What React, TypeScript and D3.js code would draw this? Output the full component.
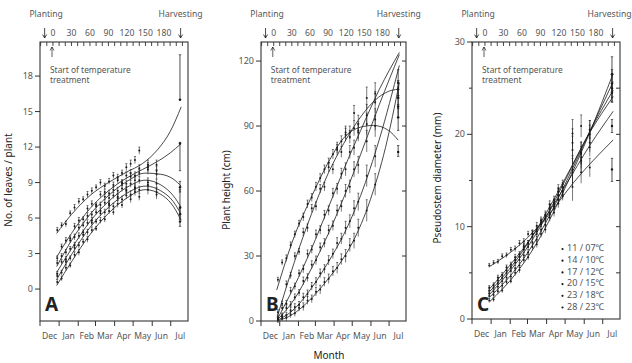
import React from 'react';
import * as d3 from 'd3';

// ---------- axis / tick data ----------
const DAY_DOMAIN: [number, number] = [-21, 219];
const MONTHS = ['Dec', 'Jan', 'Feb', 'Mar', 'Apr', 'May', 'Jun', 'Jul'];
const MONTH_STARTS = [-21, 10, 41, 69, 100, 130, 161, 191, 222];
const TOP_LABEL_DAYS = [0, 30, 60, 90, 120, 150, 180];
const TOP_MINOR_DAYS = [-20, -10, 0, 10, 20, 30, 40, 50, 60, 70, 80, 90, 100, 110, 120, 130, 140, 150, 160, 170, 180, 190, 200, 210];
const PLANTING_DAY = -13.5;
const HARVEST_ARROW_DAY = 207;
const TREATMENT_DAY = -1.5;
const LEGEND = ['11 / 07℃', '14 / 10℃', '17 / 12℃', '20 / 15℃', '23 / 18℃', '28 / 23℃'];

// ---------- measurement days ----------
const MEAS_DAYS = [7, 14, 21, 28, 35, 42, 49, 56, 63, 70, 77, 84, 91, 98, 105, 112, 119, 126, 133, 140, 154, 168];
const MEAS_DAYS_C = [7, 14, 21, 28, 35, 42, 49, 56, 63, 70, 77, 84, 91, 98, 105, 112, 119, 126, 142, 156, 170];
const HARVEST_DAY = 206;

// ---------- Panel A: number of leaves ----------
const A1 = [5.0, 5.4, 5.5, 6.4, 6.9, 7.4, 7.6, 8.0, 8.3, 8.6, 9.0, 8.7, 9.1, 9.6, 9.4, 9.8, 10.3, 10.6, 10.9, 11.7, 10.3, 10.5];
const A2 = [2.6, 3.6, 4.1, 4.3, 5.3, 5.8, 5.9, 6.8, 7.2, 7.1, 8.0, 8.2, 8.1, 8.8, 9.2, 8.9, 9.6, 9.8, 9.6, 10.2, 10.5, 10.0];
const A3 = [2.2, 2.8, 3.1, 4.1, 4.4, 5.2, 5.4, 6.2, 6.3, 7.0, 7.1, 7.8, 7.7, 8.4, 8.3, 9.0, 8.9, 9.5, 9.2, 9.8, 10.1, 9.7];
const A4 = [1.3, 2.3, 2.5, 3.4, 3.7, 4.5, 4.8, 5.6, 5.8, 6.5, 6.6, 7.3, 7.2, 7.9, 7.8, 8.5, 8.4, 8.9, 8.6, 9.2, 9.0, 8.9];
const A5 = [1.1, 1.4, 2.3, 2.6, 3.5, 3.7, 4.6, 4.8, 5.6, 5.7, 6.4, 6.5, 7.1, 7.0, 7.7, 7.6, 8.3, 8.0, 8.5, 8.4, 8.8, 8.2];
const A6 = [0.6, 0.9, 1.8, 2.0, 2.9, 3.1, 4.0, 4.2, 5.0, 5.1, 5.8, 5.9, 6.6, 6.5, 7.2, 7.1, 7.9, 7.6, 8.2, 7.8, 8.4, 8.0];
const ERR_A = [0.2, 0.2, 0.25, 0.2, 0.25, 0.25, 0.2, 0.25, 0.25, 0.2, 0.25, 0.25, 0.25, 0.25, 0.3, 0.25, 0.3, 0.3, 0.3, 0.3, 0.4, 0.4];
const HARVEST_A = [16.0, 12.3, 8.6, 6.9, 6.3, 5.7];
const HARVEST_A_LO = [16.0, 10.0, 8.2, 6.4, 5.9, 5.3];
const HARVEST_A_HI = [19.8, 12.4, 9.1, 8.4, 6.8, 6.1];
const CURVE_A1: [number, number][] = [[6, 4.7], [30, 6.3], [60, 7.9], [90, 9.0], [120, 9.9], [145, 10.6], [170, 11.8], [190, 13.3], [208, 15.4]];
const CURVE_A2: [number, number][] = [[6, 2.7], [30, 4.7], [60, 6.8], [90, 8.3], [120, 9.4], [145, 10.1], [170, 10.8], [190, 11.5], [208, 12.3]];
const CURVE_A3: [number, number][] = [[6, 1.9], [30, 4.1], [60, 6.3], [90, 7.9], [120, 9.1], [150, 9.8], [175, 9.7], [195, 9.3], [208, 8.7]];
const CURVE_A4: [number, number][] = [[6, 1.4], [30, 3.4], [60, 5.7], [90, 7.4], [120, 8.6], [150, 9.2], [175, 8.8], [195, 7.9], [208, 6.9]];
const CURVE_A5: [number, number][] = [[6, 0.8], [30, 2.9], [60, 5.2], [90, 6.9], [120, 8.1], [150, 8.7], [175, 8.3], [195, 7.4], [208, 6.3]];
const CURVE_A6: [number, number][] = [[6, 0.3], [30, 2.3], [60, 4.6], [90, 6.4], [120, 7.7], [150, 8.4], [175, 8.0], [195, 7.0], [208, 5.8]];

// ---------- Panel B: plant height ----------
const B1 = [19, 27, 29, 35, 40, 45, 48, 54, 57, 62, 66, 70, 73, 77, 80, 83, 86, 87, 89, 88, 91, 90];
const B2 = [4, 8, 17, 21, 30, 32, 41, 43, 52, 53, 61, 62, 71, 70, 79, 78, 87, 85, 96, 91, 103, 105];
const B3 = [1.5, 6, 8, 14, 16, 22, 24, 31, 33, 40, 42, 49, 51, 59, 61, 68, 70, 78, 80, 87, 95, 101];
const B4 = [1, 2.5, 6, 7.5, 11, 13, 18.5, 20, 26, 28, 34, 36, 42, 44, 51, 53, 60, 62, 70, 72, 83, 93];
const B5 = [0.5, 2, 2.5, 5, 6.5, 7.5, 11, 12.5, 16, 18, 22, 24, 28, 31, 36, 38, 43, 46, 52, 55, 67, 76];
const B6 = [0.3, 1.2, 1.5, 3, 3.6, 6, 6.6, 9.5, 10.2, 13.5, 14.5, 18, 19.5, 23, 24.5, 28.5, 30, 35, 37, 43, 51, 63];
const ERR_B = [1.2, 1.2, 1.5, 1.5, 1.5, 1.5, 1.8, 1.8, 1.8, 2, 2, 2, 2.2, 2.2, 2.5, 2.5, 3, 3, 3.5, 4, 5, 5];
const HARVEST_B = [78, 107, 110, 103, 99, 94];
const HARVEST_B_LO = [76, 103, 104, 98, 94, 88];
const HARVEST_B_HI = [81, 111, 116, 108, 104, 100];
const CURVE_B1: [number, number][] = [[5, 14.3], [34, 39], [62, 57], [90, 73], [116, 84.5], [144, 89.5], [165, 90.3], [190, 88], [206, 83.5]];
const CURVE_B2: [number, number][] = [[6, 2], [34, 27], [62, 49], [90, 68], [116, 82], [146, 95], [168, 102], [190, 106], [206, 107]];
const CURVE_B3: [number, number][] = [[6, 0.8], [34, 16], [62, 33], [90, 52], [116, 70], [144, 88], [175, 107], [208, 124]];
const CURVE_B4: [number, number][] = [[6, 0.5], [34, 10], [62, 24], [90, 40], [116, 57], [144, 77], [175, 100], [208, 123]];
const CURVE_B5: [number, number][] = [[6, 0.3], [34, 5.5], [62, 15], [90, 27], [116, 40], [144, 58], [175, 84], [208, 118]];
const CURVE_B6: [number, number][] = [[6, 0], [31, 3], [59, 9.5], [86, 18], [113, 28], [130, 36], [160, 56], [185, 80], [208, 110]];

// ---------- Panel C: pseudostem diameter ----------
const C1 = [5.8, 6.1, 6.2, 6.8, 6.9, 7.5, 7.6, 8.2, 8.4, 9.2, 9.3, 10.1, 10.3, 11.1, 11.3, 12.2, 12.5, 13.5, 14.3, 15.9, 16.4];
const C2 = [3.4, 3.7, 4.5, 4.8, 5.6, 5.9, 6.7, 7.0, 7.9, 8.2, 9.2, 9.5, 10.5, 10.9, 12.0, 12.4, 13.4, 13.9, 15.9, 17.5, 18.6];
const C3 = [3.1, 3.4, 4.2, 4.5, 5.3, 5.6, 6.4, 6.8, 7.8, 8.2, 9.2, 9.7, 10.7, 11.3, 12.4, 12.9, 14.1, 14.6, 18.3, 20.9, 20.5];
const C4 = [2.8, 3.0, 3.9, 4.1, 5.0, 5.2, 6.1, 6.4, 7.5, 7.8, 8.9, 9.2, 10.3, 10.8, 12.1, 12.6, 13.8, 14.3, 20.1, 17.2, 19.1];
const C5 = [2.5, 2.6, 3.5, 3.6, 4.5, 4.6, 5.5, 5.8, 6.9, 7.2, 8.3, 8.6, 9.7, 10.2, 11.5, 12.0, 13.4, 13.9, 19.1, 18.0, 20.5];
const C6 = [2.0, 2.1, 3.0, 3.1, 4.0, 4.1, 5.0, 5.3, 6.4, 6.7, 7.8, 8.1, 9.2, 9.7, 11.0, 11.5, 12.9, 13.3, 16.2, 17.9, 20.0];
const ERR_C = [0.2, 0.2, 0.25, 0.25, 0.25, 0.25, 0.3, 0.3, 0.3, 0.3, 0.35, 0.35, 0.35, 0.4, 0.4, 0.4, 0.45, 0.45, 1.5, 1.2, 1.0];
const HARVEST_C = [16.2, 20.9, 24.5, 25.0, 25.5, 26.5];
const HARVEST_C_LO = [14.9, 20.2, 23.5, 23.5, 24.0, 24.6];
const HARVEST_C_HI = [17.4, 21.6, 25.5, 26.5, 27.0, 28.4];
const CURVE_C1: [number, number][] = [[8, 5.7], [56, 8.0], [100, 11.0], [144, 14.8], [208, 19.4]];
const CURVE_C2: [number, number][] = [[8, 3.3], [50, 6.6], [90, 10.2], [130, 14.4], [170, 18.8], [208, 22.5]];
const CURVE_C3: [number, number][] = [[8, 3.0], [50, 6.3], [90, 10.4], [130, 15.2], [170, 20.2], [208, 24.1]];
const CURVE_C4: [number, number][] = [[8, 2.7], [50, 6.0], [90, 10.0], [130, 15.0], [170, 20.3], [208, 24.8]];
const CURVE_C5: [number, number][] = [[8, 2.4], [50, 5.4], [90, 9.4], [130, 14.6], [170, 20.3], [208, 25.7]];
const CURVE_C6: [number, number][] = [[8, 1.9], [50, 4.9], [90, 8.9], [130, 14.2], [170, 20.2], [208, 26.6]];

const FONT = "'Noto Sans', 'Open Sans', sans-serif";
const INK = '#1a1a1a';
const GREY = '#555';

interface PanelCfg {
  letter: string;
  left: number; right: number; top: number; bottom: number;
  yDomain: [number, number];
  yTicks: number[];
  yMinorLeft: number[];
  yRightTicks: number[];
  title: string; titleX: number; titleY: number;
  days: number[];
  series: number[][];
  err: number[];
  curves: [number, number][][];
  harvest: number[]; harvestLo: number[]; harvestHi: number[];
  legend?: boolean;
  harvestLabelShift?: number;
}

const PANELS: PanelCfg[] = [
  {
    letter: 'A', left: 40, right: 188, top: 42, bottom: 321,
    yDomain: [-2.7, 20.88], yTicks: [0, 3, 6, 9, 12, 15, 18], yMinorLeft: [], yRightTicks: [],
    title: 'No. of leaves / plant', titleX: 12, titleY: 180,
    days: MEAS_DAYS, series: [A1, A2, A3, A4, A5, A6], err: ERR_A,
    curves: [CURVE_A1, CURVE_A2, CURVE_A3, CURVE_A4, CURVE_A5, CURVE_A6],
    harvest: HARVEST_A, harvestLo: HARVEST_A_LO, harvestHi: HARVEST_A_HI,
  },
  {
    letter: 'B', left: 261, right: 406, top: 42, bottom: 321,
    yDomain: [0, 128.8], yTicks: [0, 30, 60, 90, 120], yMinorLeft: [], yRightTicks: [30, 60, 90, 120],
    title: 'Plant height (cm)', titleX: 230, titleY: 190,
    days: MEAS_DAYS, series: [B1, B2, B3, B4, B5, B6], err: ERR_B,
    curves: [CURVE_B1, CURVE_B2, CURVE_B3, CURVE_B4, CURVE_B5, CURVE_B6],
    harvest: HARVEST_B, harvestLo: HARVEST_B_LO, harvestHi: HARVEST_B_HI,
  },
  {
    letter: 'C', left: 472, right: 620, top: 42, bottom: 319,
    yDomain: [0, 30], yTicks: [0, 10, 20, 30], yMinorLeft: [5, 15, 25], yRightTicks: [5, 10, 15, 20, 25],
    title: 'Pseudostem diameter (mm)', titleX: 441, titleY: 178,
    days: MEAS_DAYS_C, series: [C1, C2, C3, C4, C5, C6], err: ERR_C,
    curves: [CURVE_C1, CURVE_C2, CURVE_C3, CURVE_C4, CURVE_C5, CURVE_C6],
    harvest: HARVEST_C, harvestLo: HARVEST_C_LO, harvestHi: HARVEST_C_HI,
    legend: true, harvestLabelShift: -3,
  },
];

function Panel({ p }: { p: PanelCfg }) {
  const x = d3.scaleLinear().domain(DAY_DOMAIN).range([p.left, p.right]);
  const y = d3.scaleLinear().domain(p.yDomain).range([p.bottom, p.top]);
  const line = d3.line<[number, number]>().x(d => x(d[0])).y(d => y(d[1])).curve(d3.curveMonotoneX);

  const monthTicks = MONTH_STARTS.filter(d => d >= DAY_DOMAIN[0] && d <= DAY_DOMAIN[1]);
  const monthMids = MONTHS.map((m, i) => ({ m, d: (MONTH_STARTS[i] + MONTH_STARTS[i + 1]) / 2 }));

  const arrowDown = (ax: number, y1: number, y2: number, key: string) => (
    <g key={key} stroke={INK} strokeWidth={0.8} fill="none">
      <line x1={ax} x2={ax} y1={y1} y2={y2} />
      <path d={`M${ax - 2},${y2 - 3.5} L${ax},${y2} L${ax + 2},${y2 - 3.5}`} />
    </g>
  );

  const tx = x(TREATMENT_DAY);

  return (
    <g>
      {/* curves */}
      {p.curves.map((c, i) => (
        <path key={'c' + i} d={line(c) || ''} fill="none" stroke={INK} strokeWidth={0.8} />
      ))}
      {/* points with error bars */}
      {p.series.map((vals, si) => (
        <g key={'s' + si}>
          {vals.map((v, j) => {
            const px = x(p.days[j]);
            const py = y(v);
            const e = Math.max(2.0, Math.abs(y(v + p.err[j]) - py));
            return (
              <g key={j}>
                <line x1={px} x2={px} y1={py - e} y2={py + e} stroke="#222" strokeWidth={0.6} />
                <line x1={px - 1} x2={px + 1} y1={py - e} y2={py - e} stroke="#222" strokeWidth={0.6} />
                <circle cx={px} cy={py} r={1.0} fill={INK} />
              </g>
            );
          })}
        </g>
      ))}
      {/* harvest points */}
      {p.harvest.map((v, i) => {
        const px = x(HARVEST_DAY);
        return (
          <g key={'h' + i}>
            <line x1={px} x2={px} y1={y(p.harvestHi[i])} y2={y(p.harvestLo[i])} stroke="#222" strokeWidth={0.8} />
            <line x1={px - 1.2} x2={px + 1.2} y1={y(p.harvestHi[i])} y2={y(p.harvestHi[i])} stroke="#222" strokeWidth={0.7} />
            <line x1={px - 1.2} x2={px + 1.2} y1={y(p.harvestLo[i])} y2={y(p.harvestLo[i])} stroke="#222" strokeWidth={0.7} />
            <circle cx={px} cy={y(v)} r={1.2} fill={INK} />
          </g>
        );
      })}

      {/* frame */}
      <rect x={p.left} y={p.top} width={p.right - p.left} height={p.bottom - p.top} fill="none" stroke="#333" strokeWidth={1.1} />

      {/* left ticks */}
      {p.yTicks.map(t => (
        <g key={'yt' + t}>
          <line x1={p.left - 5} x2={p.left} y1={y(t)} y2={y(t)} stroke="#333" strokeWidth={1} />
          <text x={p.left - 7} y={y(t)} dy="0.35em" textAnchor="end" fontSize={9} fill={GREY} fontFamily={FONT}>{t}</text>
        </g>
      ))}
      {p.yMinorLeft.map(t => (
        <line key={'ym' + t} x1={p.left - 3} x2={p.left} y1={y(t)} y2={y(t)} stroke="#333" strokeWidth={1} />
      ))}
      {p.yRightTicks.map(t => (
        <line key={'yr' + t} x1={p.right - 4} x2={p.right} y1={y(t)} y2={y(t)} stroke="#333" strokeWidth={1} />
      ))}

      {/* bottom month axis */}
      {monthTicks.map(d => (
        <line key={'mt' + d} x1={x(d)} x2={x(d)} y1={p.bottom} y2={p.bottom + 5} stroke="#333" strokeWidth={1} />
      ))}
      {monthMids.map(({ m, d }) => (
        <text key={'ml' + m} x={x(d)} y={p.bottom + 18} textAnchor="middle" fontSize={8.6} fill={GREY} fontFamily={FONT}>{m}</text>
      ))}

      {/* top day axis */}
      {TOP_MINOR_DAYS.map(d => (
        <line key={'td' + d} x1={x(d)} x2={x(d)} y1={p.top} y2={p.top + 4} stroke="#333" strokeWidth={0.9} />
      ))}
      {TOP_LABEL_DAYS.map(d => (
        <text key={'tl' + d} x={x(d)} y={p.top - 6} textAnchor="middle" fontSize={8.6} fill={GREY} fontFamily={FONT}>{d}</text>
      ))}
      {arrowDown(x(PLANTING_DAY), p.top - 14, p.top - 4, 'pa')}
      {arrowDown(x(HARVEST_ARROW_DAY), p.top - 14, p.top - 4, 'ha')}
      <text x={x(PLANTING_DAY) + 1.5} y={17} textAnchor="middle" fontSize={8.6} fill={GREY} fontFamily={FONT}>Planting</text>
      <text x={x(HARVEST_ARROW_DAY) + (p.harvestLabelShift || 0)} y={17} textAnchor="middle" fontSize={8.6} fill={GREY} fontFamily={FONT}>Harvesting</text>

      {/* treatment annotation */}
      <g stroke={INK} strokeWidth={0.7} fill="none">
        <line x1={tx} x2={tx} y1={p.top + 15} y2={p.top + 5} />
        <path d={`M${tx - 2},${p.top + 8.5} L${tx},${p.top + 5} L${tx + 2},${p.top + 8.5}`} />
      </g>
      <text x={tx - 2} y={p.top + 31} fontSize={8.4} fill={GREY} fontFamily={FONT}>Start of temperature</text>
      <text x={tx - 2} y={p.top + 41} fontSize={8.4} fill={GREY} fontFamily={FONT}>treatment</text>

      {/* panel letter */}
      <text x={p.left + 5} y={311} fontSize={19} fontWeight="bold" fill="#222" fontFamily={FONT}>{p.letter}</text>

      {/* y title */}
      <text transform={`translate(${p.titleX},${p.titleY}) rotate(-90)`} textAnchor="middle" fontSize={10} fill="#222" fontFamily={FONT}>{p.title}</text>

      {p.legend && LEGEND.map((l, i) => {
        const ly = 248 + i * 11.7;
        return (
          <g key={'lg' + i}>
            <circle cx={562.5} cy={ly + 1} r={1.1} fill={INK} />
            <text x={567} y={ly} dy="0.35em" fontSize={9} fill={GREY} fontFamily={FONT}>{l}</text>
          </g>
        );
      })}
    </g>
  );
}

export default function App() {
  return (
    <svg width={632} height={363} viewBox="0 0 632 363"
      style={{ position: 'absolute', left: 0, top: 0, background: '#fff' }}>
      <rect x={0} y={0} width={632} height={363} fill="#fff" />
      {PANELS.map(p => <Panel key={p.letter} p={p} />)}
      <text x={329} y={359} textAnchor="middle" fontSize={10} fill="#222" fontFamily={FONT}>Month</text>
    </svg>
  );
}
